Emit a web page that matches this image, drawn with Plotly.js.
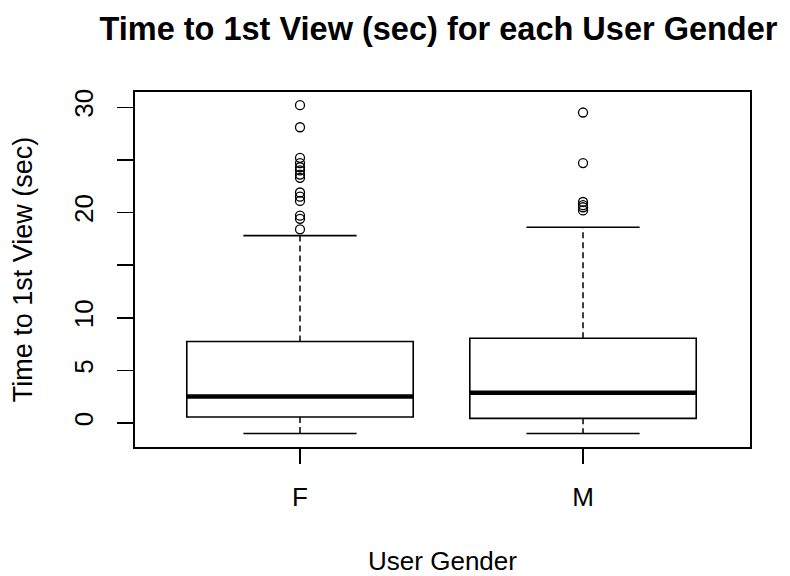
<!DOCTYPE html>
<html>
<head>
<meta charset="utf-8">
<script src="https://cdn.plot.ly/plotly-3.0.1.min.js"></script>
<style>html,body{margin:0;padding:0;background:#fff;}#chart{width:790px;height:576px;}</style>
</head>
<body>
<div id="chart"></div>
<script>
// Data
const categories = ['F', 'M'];
const positions = [1, 2];
const q1 = [0.57, 0.44];
const medians = [2.53, 2.88];
const q3 = [7.74, 8.05];
const lowerWhisker = [-1.0, -1.0];
const upperWhisker = [17.8, 18.6];
const outliersF = [30.2, 28.1, 25.2, 24.7, 24.3, 24.0, 23.6, 23.3, 21.9, 21.5, 21.1, 19.7, 19.4, 18.4];
const outliersM = [29.5, 24.7, 21.0, 20.7, 20.5, 20.2];
const yTickVals = [0, 5, 10, 15, 20, 25, 30];
const yTickText = ['0', '5', '10', '', '20', '', '30'];

const boxWidth = 0.8;
const capHalf = boxWidth / 4;
const font = 'Liberation Sans, Arial, sans-serif';

const traces = [];
// boxes (whiskers drawn dashed below)
traces.push({
  type: 'box',
  x: positions,
  q1: q1, median: medians, q3: q3,
  lowerfence: q1, upperfence: q3,
  width: boxWidth,
  boxpoints: false,
  fillcolor: 'rgba(0,0,0,0)',
  line: {color: '#000', width: 1.6},
  whiskerwidth: 0,
  hoverinfo: 'skip',
  showlegend: false
});
// thick medians
const medX = [], medY = [];
positions.forEach((p, i) => { medX.push(p - boxWidth/2, p + boxWidth/2, null); medY.push(medians[i], medians[i], null); });
traces.push({type: 'scatter', mode: 'lines', x: medX, y: medY, line: {color: '#000', width: 4.5}, hoverinfo: 'skip', showlegend: false});
// dashed whiskers
const wX = [], wY = [];
positions.forEach((p, i) => {
  wX.push(p, p, null, p, p, null);
  wY.push(q3[i], upperWhisker[i], null, q1[i], lowerWhisker[i], null);
});
traces.push({type: 'scatter', mode: 'lines', x: wX, y: wY, line: {color: '#000', width: 1.5, dash: '6px,4px'}, hoverinfo: 'skip', showlegend: false});
// caps
const cX = [], cY = [];
positions.forEach((p, i) => {
  cX.push(p - capHalf, p + capHalf, null, p - capHalf, p + capHalf, null);
  cY.push(upperWhisker[i], upperWhisker[i], null, lowerWhisker[i], lowerWhisker[i], null);
});
traces.push({type: 'scatter', mode: 'lines', x: cX, y: cY, line: {color: '#000', width: 1.6}, hoverinfo: 'skip', showlegend: false});
// outliers
const oX = outliersF.map(() => positions[0]).concat(outliersM.map(() => positions[1]));
const oY = outliersF.concat(outliersM);
traces.push({type: 'scatter', mode: 'markers', x: oX, y: oY,
  marker: {symbol: 'circle-open', size: 9, color: '#000', line: {width: 1.3, color: '#000'}},
  hoverinfo: 'skip', showlegend: false});

const layout = {
  width: 790, height: 576,
  margin: {l: 135, r: 40, t: 92, b: 129},
  paper_bgcolor: '#fff', plot_bgcolor: '#fff',
  font: {family: font, color: '#000', size: 26},
  title: {text: '<b>Time to 1st View (sec) for each User Gender</b>', font: {family: font, size: 32.5, color: '#000'},
          x: 0.555, xanchor: 'center', y: 0.95, yanchor: 'middle'},
  xaxis: {
    range: [0.417, 2.59],
    tickmode: 'array', tickvals: positions, ticktext: categories,
    ticks: 'outside', ticklen: 15, tickwidth: 1.5, tickcolor: '#000',
    showgrid: false, zeroline: false,
    showline: true, mirror: true, linecolor: '#000', linewidth: 1.6,
    tickfont: {family: font, size: 26, color: '#000'},
    ticklabelstandoff: 11,
    title: {text: 'User Gender', font: {family: font, size: 26, color: '#000'}, standoff: 44}
  },
  yaxis: {
    range: [-2.28, 31.45],
    tickmode: 'array', tickvals: yTickVals, ticktext: yTickText,
    ticks: 'outside', ticklen: 16, tickwidth: 1.5, tickcolor: '#000',
    tickangle: -90,
    showgrid: false, zeroline: false,
    showline: true, mirror: true, linecolor: '#000', linewidth: 1.6,
    tickfont: {family: font, size: 26, color: '#000'},
    ticklabelstandoff: 14,
    title: {text: 'Time to 1st View (sec)', font: {family: font, size: 27, color: '#000'}, standoff: 28}
  }
};

Plotly.newPlot('chart', traces, layout, {displayModeBar: false, staticPlot: true});
</script>
</body>
</html>
